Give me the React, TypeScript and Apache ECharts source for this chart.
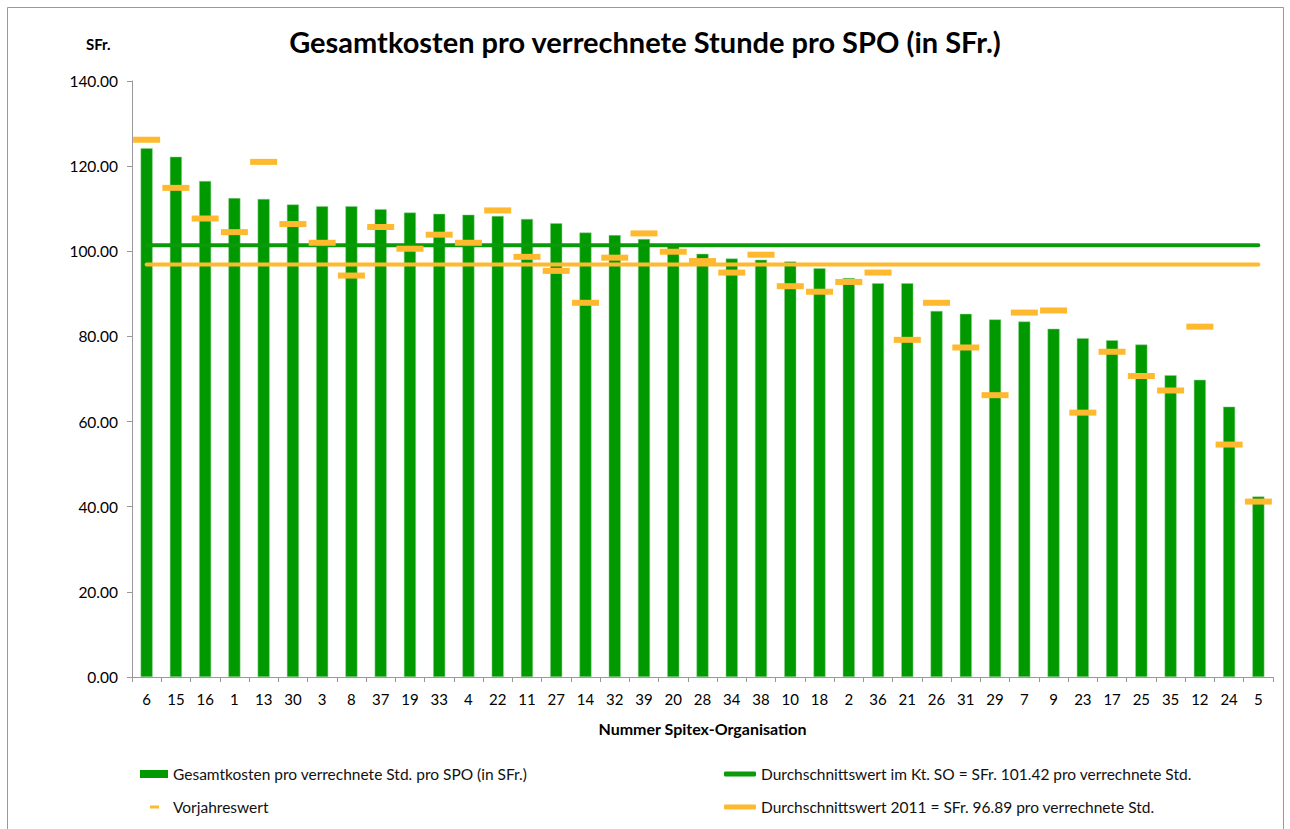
import React, { useEffect, useRef } from "react";
import * as echarts from "echarts";

const categories = ["6","15","16","1","13","30","3","8","37","19","33","4","22","11","27","14","32","39","20","28","34","38","10","18","2","36","21","26","31","29","7","9","23","17","25","35","12","24","5"];
const costs = [124.2,122.2,116.5,112.5,112.3,111.0,110.6,110.6,109.9,109.1,108.8,108.6,108.3,107.6,106.6,104.4,103.8,102.9,101.2,99.4,98.3,98.0,97.6,96.0,93.7,92.5,92.5,86.0,85.3,84.0,83.5,81.8,79.6,79.1,78.1,70.9,69.8,63.5,42.4];
const previousYear = [126.2,114.9,107.7,104.5,121.0,106.4,102.0,94.3,105.7,100.6,103.9,102.0,109.6,98.7,95.4,87.9,98.5,104.2,99.9,97.7,95.0,99.2,91.8,90.5,92.8,95.0,79.2,87.9,77.4,66.2,85.6,86.1,62.1,76.4,70.7,67.3,82.3,54.6,41.2];
const avgCanton = 101.42;
const avg2011 = 96.89;
const yTicks = { min: 0, max: 140, interval: 20 };

const nameBars = "Gesamtkosten pro verrechnete Std. pro SPO (in SFr.)";
const namePrev = "Vorjahreswert";
const nameAvg = "Durchschnittswert im Kt. SO = SFr. 101.42 pro verrechnete Std.";
const nameAvg2011 = "Durchschnittswert 2011 = SFr. 96.89 pro verrechnete Std.";

const FONT = "Lato, 'Open Sans', sans-serif";
const GREEN = "#009900";
const GREEN_LINE = "#0A9A0A";
const ORANGE = "#FFB92E";

export default function App() {
  const ref = useRef<HTMLDivElement>(null);
  useEffect(() => {
    if (!ref.current) return;
    const chart = echarts.init(ref.current, null, { renderer: "svg" });
    const legendText = { fontFamily: FONT, fontSize: 15.5, color: "#111" };
    const legendBase = { padding: 0, selectedMode: false, itemStyle: { borderWidth: 0 } };
    chart.setOption({
      animation: false,
      backgroundColor: "#fff",
      textStyle: { fontFamily: FONT },
      title: {
        text: "Gesamtkosten pro verrechnete Stunde pro SPO (in SFr.)",
        left: "center",
        top: 22,
        textStyle: { fontFamily: FONT, fontSize: 29, fontWeight: "bold", color: "#000" },
      },
      graphic: [
        {
          type: "rect",
          shape: { x: 7.5, y: 7.5, width: 1276, height: 840 },
          style: { fill: "none", stroke: "#999", lineWidth: 1 },
          silent: true,
        },
        {
          type: "text",
          x: 86,
          y: 36,
          style: { text: "SFr.", font: `bold 15px ${FONT}`, fill: "#000" },
        },
      ],
      legend: [
        {
          ...legendBase,
          data: [{ name: nameBars, icon: "rect" }],
          left: 140, top: 766, itemWidth: 28, itemHeight: 8,
          textStyle: legendText,
        },
        {
          ...legendBase,
          data: [{ name: namePrev, icon: "rect" }],
          left: 150, top: 799, itemWidth: 9, itemHeight: 3,
          textStyle: { ...legendText, padding: [0, 0, 0, 9] },
        },
        {
          ...legendBase,
          data: [{ name: nameAvg, icon: "roundRect" }],
          left: 724, top: 766, itemWidth: 32, itemHeight: 5,
          textStyle: legendText,
        },
        {
          ...legendBase,
          data: [{ name: nameAvg2011, icon: "roundRect" }],
          left: 724, top: 799, itemWidth: 32, itemHeight: 5,
          textStyle: legendText,
        },
      ],
      grid: { left: 132, right: 17, top: 81, bottom: 152 },
      xAxis: {
        type: "category",
        data: categories,
        boundaryGap: true,
        name: "Nummer Spitex-Organisation",
        nameLocation: "middle",
        nameGap: 43,
        nameTextStyle: { fontFamily: FONT, fontSize: 16, fontWeight: "bold", color: "#000" },
        axisLine: { lineStyle: { color: "#999", width: 1 } },
        axisTick: { show: true, length: 5, alignWithLabel: false, lineStyle: { color: "#999" } },
        axisLabel: { fontFamily: FONT, fontSize: 15, color: "#000", margin: 14, interval: 0 },
      },
      yAxis: {
        type: "value",
        min: yTicks.min,
        max: yTicks.max,
        interval: yTicks.interval,
        axisLine: { show: true, lineStyle: { color: "#999", width: 1 } },
        axisTick: { show: true, length: 5, lineStyle: { color: "#999" } },
        splitLine: { show: false },
        axisLabel: {
          fontFamily: FONT, fontSize: 15.5, color: "#000", margin: 14,
          formatter: (v: number) => v.toFixed(2),
        },
      },
      series: [
        {
          name: nameBars,
          type: "bar",
          data: costs,
          barWidth: 12,
          itemStyle: { color: GREEN, borderColor: "#8fd08f", borderWidth: 0.5 },
          z: 1,
        },
        {
          name: nameAvg,
          type: "line",
          data: categories.map(() => avgCanton),
          symbol: "none",
          lineStyle: { color: GREEN_LINE, width: 4, cap: "round" },
          itemStyle: { color: GREEN_LINE },
          z: 3,
        },
        {
          name: nameAvg2011,
          type: "line",
          data: categories.map(() => avg2011),
          symbol: "none",
          lineStyle: { color: ORANGE, width: 4, cap: "round" },
          itemStyle: { color: ORANGE },
          z: 3,
        },
        {
          name: namePrev,
          type: "scatter",
          data: previousYear,
          symbol: "rect",
          symbolSize: [27, 6],
          itemStyle: { color: ORANGE, opacity: 1 },
          z: 4,
        },
      ],
    });
    return () => chart.dispose();
  }, []);
  return (
    <div
      ref={ref}
      style={{ position: "absolute", left: 0, top: 0, width: 1290, height: 829 }}
    />
  );
}
